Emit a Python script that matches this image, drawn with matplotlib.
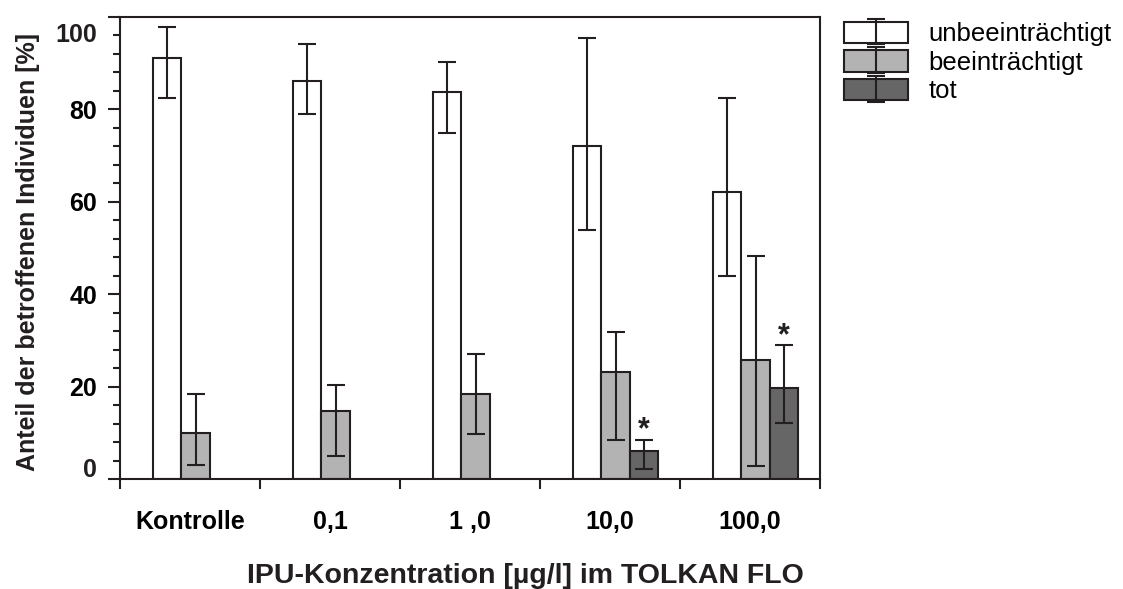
import numpy as np
import matplotlib
matplotlib.use("Agg")
import matplotlib.pyplot as plt
from matplotlib.legend_handler import HandlerTuple
from matplotlib.ticker import FixedLocator

plt.rcParams['font.family'] = ['Liberation Sans', 'DejaVu Sans']

# data
categories = ['Kontrolle', '0,1', '1 ,0', '10,0', '100,0']

unbeeintr = [91.1, 86.2, 83.8, 72.1, 62.2]
unbeeintr_lo = [82.4, 78.9, 75.0, 53.9, 43.9]
unbeeintr_hi = [97.8, 94.2, 90.3, 95.5, 82.5]

beeintr = [9.9, 14.7, 18.5, 23.2, 25.7]
beeintr_lo = [3.0, 5.0, 9.7, 8.4, 2.9]
beeintr_hi = [18.4, 20.3, 27.0, 31.8, 48.3]

tot = [np.nan, np.nan, np.nan, 6.1, 19.8]
tot_lo = [np.nan, np.nan, np.nan, 2.2, 12.1]
tot_hi = [np.nan, np.nan, np.nan, 8.4, 28.9]

significant = [False, False, False, True, True]

series = [
    ('unbeeinträchtigt', unbeeintr, unbeeintr_lo, unbeeintr_hi, 'white'),
    ('beeinträchtigt', beeintr, beeintr_lo, beeintr_hi, '#b3b3b3'),
    ('tot', tot, tot_lo, tot_hi, '#666666'),
]

edge = '#231f20'
lw = 1.5

fig = plt.figure(figsize=(11.23, 5.89), dpi=100)
ax = fig.add_axes([120 / 1123, 1 - 479 / 589, 700 / 1123, 462 / 589])

x = np.arange(len(categories))
width = 0.204
shift = 0.04

handles = []
for k, (name, vals, lo, hi, col) in enumerate(series):
    vals = np.array(vals, dtype=float)
    lo = np.array(lo, dtype=float)
    hi = np.array(hi, dtype=float)
    ok = ~np.isnan(vals)
    xpos = x[ok] + shift + (k - 1) * width
    bars = ax.bar(xpos, vals[ok], width=width, color=col, edgecolor=edge,
                  linewidth=lw, zorder=2)
    err = ax.errorbar(xpos, vals[ok], yerr=[vals[ok] - lo[ok], hi[ok] - vals[ok]],
                      fmt='none', ecolor=edge, elinewidth=lw, capsize=6.8,
                      capthick=lw, zorder=3)
    handles.append((bars, err))

# significance stars over the "tot" bars
for i, sig in enumerate(significant):
    if sig:
        ax.annotate('*', xy=(x[i] + shift + width, tot_hi[i]), xytext=(0, -4),
                    textcoords='offset points', ha='center', va='bottom',
                    fontsize=22, fontweight='bold', color=edge)

ax.set_xlim(-0.5, len(categories) - 0.5)
ax.set_ylim(0, 100)

# x axis: ticks at group borders, labels in the middle
ax.xaxis.set_major_locator(FixedLocator(np.arange(len(categories) + 1) - 0.5))
ax.xaxis.set_minor_locator(FixedLocator(x))
ax.set_xticklabels([], minor=False)
ax.set_xticklabels(categories, minor=True, fontsize=18, fontweight='bold')
ax.tick_params(axis='x', which='major', direction='out', length=7, width=lw, color=edge)
ax.tick_params(axis='x', which='minor', length=0, pad=22)

# y axis: the 0 and 100 labels sit a bit inside, like in the original
ax.set_yticks([0, 20, 40, 60, 80, 100])
ax.set_yticklabels(['', '20', '40', '60', '80', ''], fontsize=18, fontweight='bold')
ax.set_yticks(np.arange(0, 101, 4), minor=True)
ax.tick_params(axis='y', which='major', direction='out', length=9, width=lw,
               color=edge, pad=7.5)
ax.tick_params(axis='y', which='minor', direction='out', length=4.8, width=lw, color=edge)
for txt, yv in [('0', 2.0), ('100', 96.2)]:
    ax.annotate(txt, xy=(0, yv), xycoords=ax.get_yaxis_transform(), xytext=(-16.5, 0),
                textcoords='offset points', ha='right', va='center',
                fontsize=18, fontweight='bold', color=edge)

for sp in ax.spines.values():
    sp.set_linewidth(lw)
    sp.set_color(edge)

fig.text(28 / 1123, 1 - 252 / 589, 'Anteil der betroffenen Individuen [%]', rotation=90,
         ha='center', va='center', fontsize=18, fontweight='bold', color=edge)
fig.text(525 / 1123, 1 - 576 / 589, 'IPU-Konzentration [µg/l] im TOLKAN FLO',
         ha='center', va='center', fontsize=20.5, fontweight='bold', color=edge)

ax.legend(handles, [s[0] for s in series], handler_map={tuple: HandlerTuple(ndivide=1)},
          loc='upper left', bbox_to_anchor=(1.034, 0.99), frameon=False,
          fontsize=18.5, handlelength=2.5, handleheight=0.9, handletextpad=0.8,
          labelspacing=0.16, borderpad=0, borderaxespad=0)

fig.savefig('out.png', dpi=100)
